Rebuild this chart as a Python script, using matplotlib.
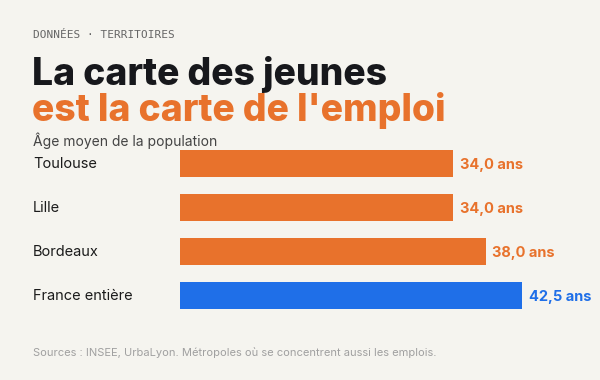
import matplotlib.pyplot as plt

villes = ["Toulouse", "Lille", "Bordeaux", "France entière"]
ages = [34.0, 34.0, 38.0, 42.5]
etiquettes = ["34,0 ans", "34,0 ans", "38,0 ans", "42,5 ans"]

orange = "#e8722c"
bleu = "#1f6fe8"
fond = "#f5f4ef"
couleurs = [orange, orange, orange, bleu]

W, H = 600, 380
fig = plt.figure(figsize=(W / 100, H / 100), dpi=100, facecolor=fond)


def fx(px):
    return px / W


def fy(py):
    return 1 - py / H


# axe des barres : x de 180 a 560 px, y de 141.5 a 317.5 px
ax = fig.add_axes([fx(180), fy(317.5), fx(380), 176 / H])
ax.set_facecolor(fond)
ypos = list(range(len(villes)))
ax.barh(ypos, ages, height=0.61, color=couleurs)
ax.set_xlim(0, 380 / 8.04)
ax.set_ylim(len(villes) - 0.5, -0.5)
ax.axis("off")

for i, (v, lab, c) in enumerate(zip(ages, etiquettes, couleurs)):
    ax.annotate(lab, (v, i), xytext=(5, -1), textcoords="offset points",
                va="center", ha="left", color=c, fontsize=10.5,
                fontweight="bold", family="Inter")
    ax.annotate(villes[i], (fx(33), i), xycoords=("figure fraction", "data"),
                xytext=(0, 0), textcoords="offset points",
                va="center", ha="left", color="#1b1b1b", fontsize=10.5,
                family="Inter")

fig.text(fx(33), fy(35), "DONNÉES · TERRITOIRES", family="DejaVu Sans Mono",
         fontsize=8, color="#666666", va="center", ha="left")
fig.text(fx(32), fy(85), "La carte des jeunes", family="Inter",
         fontweight="heavy", fontsize=26.8, color="#17181c", va="baseline")
fig.text(fx(32), fy(121), "est la carte de l'emploi", family="Inter",
         fontweight="heavy", fontsize=26.8, color=orange, va="baseline")
fig.text(fx(33), fy(141), "Âge moyen de la population", family="Inter",
         fontsize=10, color="#444444", va="center")
fig.text(fx(33), fy(353), "Sources : INSEE, UrbaLyon. Métropoles où se concentrent aussi les emplois.",
         family="Inter", fontsize=8, color="#a0a0a0", va="center")

fig.savefig("out.png", dpi=100, facecolor=fond)
